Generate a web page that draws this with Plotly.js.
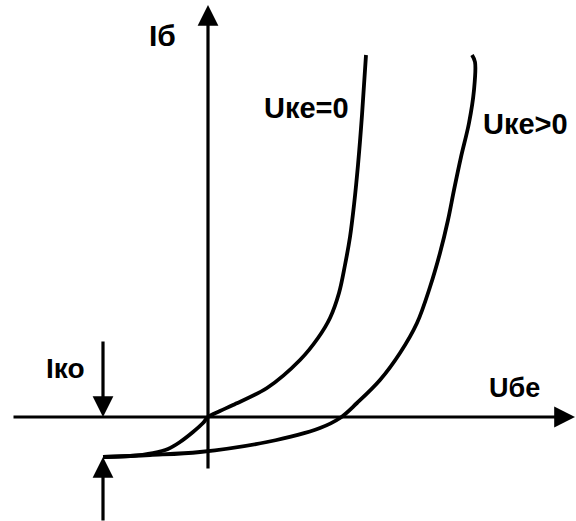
<!DOCTYPE html>
<html>
<head>
<meta charset="utf-8">
<script src="https://cdn.plot.ly/plotly-3.0.1.min.js"></script>
<style>html,body{margin:0;padding:0;background:#fff;}#chart{width:576px;height:521px;}</style>
</head>
<body>
<div id="chart"></div>
<script>
// Curve Uке=0 (Uбе, Iб) in arbitrary units
const uke0_x = [-1.05, -0.78, -0.55, -0.40, -0.28, -0.15, -0.05, 0.00, 0.12, 0.25, 0.59, 0.92, 1.10, 1.22, 1.31, 1.37, 1.42, 1.46, 1.50, 1.54, 1.58];
const uke0_y = [-0.40, -0.39, -0.36, -0.32, -0.25, -0.15, -0.06, 0.00, 0.06, 0.12, 0.29, 0.57, 0.79, 0.99, 1.24, 1.52, 1.80, 2.12, 2.52, 3.02, 3.62];
// Curve Uке>0
const ukep_x = [-1.05, -0.58, -0.08, 0.59, 1.12, 1.32, 1.49, 1.72, 1.92, 2.09, 2.22, 2.32, 2.40, 2.46, 2.53, 2.61, 2.66, 2.67, 2.64];
const ukep_y = [-0.40, -0.38, -0.35, -0.25, -0.11, -0.01, 0.14, 0.37, 0.64, 0.94, 1.30, 1.64, 1.97, 2.27, 2.60, 2.94, 3.27, 3.55, 3.62];
// Labels
const curveLabels = ["Uке=0", "Uке>0"];
const axisLabels = ["Iб", "Uбе"];
const ikoLabel = "Iко";
const iko = -0.40;   // reverse saturation current level

const lineStyle = {color: "#000", width: 3.8, shape: "spline", smoothing: 1};
const traces = [
  {x: uke0_x, y: uke0_y, mode: "lines", line: lineStyle, name: curveLabels[0], hoverinfo: "skip"},
  {x: ukep_x, y: ukep_y, mode: "lines", line: lineStyle, name: curveLabels[1], hoverinfo: "skip"}
];

const ikoX = uke0_x[0];
const font = {family: "Liberation Sans, Arial, sans-serif", size: 30, color: "#000"};
function arrow(x, y, ax, ay) {
  return {x: x, y: y, ax: ax, ay: ay, xref: "x", yref: "y", axref: "x", ayref: "y",
          showarrow: true, arrowhead: 2, arrowwidth: 3.2, arrowsize: 1.3, arrowcolor: "#000", text: ""};
}
function label(t, x, y, xa, size) {
  return {x: x, y: y, xref: "x", yref: "y", text: "<b>" + t + "</b>", showarrow: false,
          xanchor: xa, yanchor: "middle", font: Object.assign({}, font, {size: size})};
}

const annotations = [
  arrow(3.67, 0, -1.96, 0),       // Uбе axis
  arrow(0, 4.12, 0, -0.53),       // Iб axis
  arrow(ikoX, 0, ikoX, 0.77),     // Iко arrow from above
  arrow(ikoX, iko, ikoX, -1.05),  // Iко arrow from below
  label(axisLabels[0], -0.46, 3.82, "center", 30),
  label(axisLabels[1], 3.06, 0.29, "center", 27),
  label(curveLabels[0], 0.98, 3.09, "center", 29),
  label(curveLabels[1], 2.73, 2.93, "left", 29),
  label(ikoLabel, -1.43, 0.49, "center", 28)
];

const layout = {
  width: 576, height: 521,
  margin: {l: 0, r: 0, t: 0, b: 0},
  paper_bgcolor: "#fff", plot_bgcolor: "#fff",
  showlegend: false,
  xaxis: {range: [-2.08, 3.68], visible: false, fixedrange: true},
  yaxis: {range: [-1.04, 4.17], visible: false, fixedrange: true},
  annotations: annotations
};
Plotly.newPlot("chart", traces, layout, {staticPlot: true});
</script>
</body>
</html>
